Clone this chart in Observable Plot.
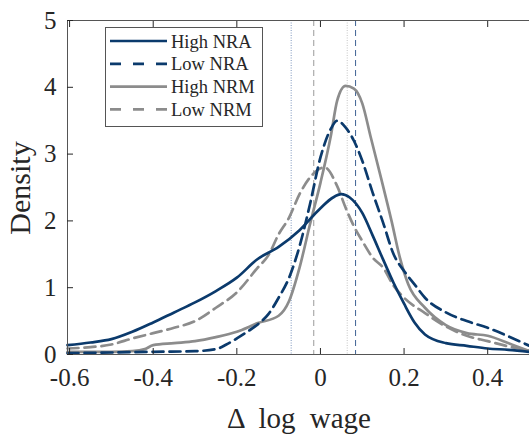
<!DOCTYPE html>
<html><head><meta charset="utf-8">
<script src="https://cdn.jsdelivr.net/npm/d3@7"></script>
<script src="https://cdn.jsdelivr.net/npm/@observablehq/plot@0.6"></script>
<style>
body{margin:0;background:#fff;}
#wrap{position:relative;width:529px;height:434px;}
</style></head><body><div id="wrap"></div>
<script>
// Series names
const seriesNames = ["High NRA", "Low NRA", "High NRM", "Low NRM"];

// High NRA (solid navy)
const highNRA_x = [-0.605,-0.55,-0.5,-0.45,-0.4,-0.35,-0.3,-0.25,-0.2,-0.15,-0.1,-0.05,0,0.03,0.05,0.07,0.1,0.125,0.15,0.175,0.2,0.225,0.25,0.3,0.35,0.4,0.45,0.5];
const highNRA_y = [0.14,0.18,0.23,0.34,0.48,0.63,0.78,0.95,1.15,1.43,1.61,1.86,2.19,2.35,2.40,2.35,2.12,1.78,1.42,1.07,0.76,0.48,0.30,0.17,0.13,0.09,0.07,0.04];

// Low NRA (dashed navy)
const lowNRA_x = [-0.605,-0.5,-0.4,-0.3,-0.25,-0.225,-0.2,-0.175,-0.15,-0.125,-0.1,-0.075,-0.05,-0.025,0,0.025,0.04,0.06,0.08,0.1,0.125,0.15,0.175,0.2,0.225,0.25,0.3,0.35,0.4,0.45,0.5];
const lowNRA_y = [0.02,0.03,0.04,0.05,0.08,0.15,0.24,0.34,0.45,0.60,0.85,1.15,1.62,2.25,2.95,3.38,3.50,3.40,3.20,2.90,2.42,1.97,1.50,1.25,1.05,0.85,0.63,0.50,0.40,0.27,0.13];

// High NRM (solid gray)
const highNRM_x = [-0.605,-0.5,-0.45,-0.42,-0.4,-0.35,-0.3,-0.25,-0.2,-0.15,-0.1,-0.075,-0.05,-0.025,0,0.025,0.04,0.06,0.08,0.1,0.12,0.145,0.17,0.19,0.21,0.25,0.3,0.35,0.4,0.45,0.5];
const highNRM_y = [0.04,0.04,0.05,0.08,0.14,0.17,0.20,0.26,0.34,0.47,0.58,0.80,1.30,1.95,2.57,3.28,3.80,4.02,3.98,3.76,3.26,2.64,2.00,1.45,1.05,0.70,0.44,0.32,0.28,0.17,0.05];

// Low NRM (dashed gray)
const lowNRM_x = [-0.605,-0.55,-0.5,-0.45,-0.4,-0.35,-0.3,-0.25,-0.2,-0.15,-0.125,-0.1,-0.075,-0.05,-0.025,0.01,0.04,0.06,0.08,0.1,0.125,0.15,0.175,0.2,0.25,0.3,0.35,0.4,0.45,0.5];
const lowNRM_y = [0.09,0.11,0.15,0.24,0.32,0.40,0.50,0.70,0.93,1.30,1.48,1.80,2.05,2.40,2.65,2.80,2.52,2.20,1.92,1.70,1.45,1.30,1.03,0.85,0.62,0.42,0.28,0.20,0.12,0.06];

// Mean lines
const meanHighNRA = [-0.070];
const meanLowNRM = [-0.016];
const meanHighNRM = [0.064];
const meanLowNRA = [0.084];

// Ticks
const xTicks = [-0.6, -0.4, -0.2, 0, 0.2, 0.4];
const yTicks = [0, 1, 2, 3, 4, 5];

const navy = "#0b3a6c";
const gray = "#8c8c8c";
const ink = "#262626";
const FONT = "'Liberation Serif', 'DejaVu Serif', serif";

const toRows = (name, xs, ys) => xs.map((x, i) => ({series: name, x, y: ys[i]}));
const rowsHighNRA = toRows(seriesNames[0], highNRA_x, highNRA_y);
const rowsLowNRA = toRows(seriesNames[1], lowNRA_x, lowNRA_y);
const rowsHighNRM = toRows(seriesNames[2], highNRM_x, highNRM_y);
const rowsLowNRM = toRows(seriesNames[3], lowNRM_x, lowNRM_y);

const fmt = d => String(d).replace("\u2212", "-");
const curve = "monotone-x";

const plot = Plot.plot({
  width: 529, height: 434,
  marginLeft: 67, marginRight: 0, marginTop: 20, marginBottom: 80,
  x: {domain: [-0.605, 0.5]},
  y: {domain: [0, 5]},
  style: {fontFamily: FONT, fontSize: "25px", color: ink, background: "white"},
  marks: [
    Plot.ruleX(meanHighNRA, {x: d => d, stroke: "#7f97bd", strokeWidth: 1, strokeDasharray: "1,1.5"}),
    Plot.ruleX(meanLowNRM, {x: d => d, stroke: "#9a9a9a", strokeWidth: 1, strokeDasharray: "6,4"}),
    Plot.ruleX(meanHighNRM, {x: d => d, stroke: "#c4c4c4", strokeWidth: 1, strokeDasharray: "1,1.5"}),
    Plot.ruleX(meanLowNRA, {x: d => d, stroke: "#3f6394", strokeWidth: 1, strokeDasharray: "6,4"}),
    Plot.line(rowsLowNRM, {x: "x", y: "y", stroke: gray, strokeWidth: 2.7, strokeDasharray: "11,6", curve}),
    Plot.line(rowsHighNRM, {x: "x", y: "y", stroke: gray, strokeWidth: 2.7, curve}),
    Plot.line(rowsLowNRA, {x: "x", y: "y", stroke: navy, strokeWidth: 2.7, strokeDasharray: "11,6", curve}),
    Plot.line(rowsHighNRA, {x: "x", y: "y", stroke: navy, strokeWidth: 2.7, curve}),
    Plot.frame({stroke: "#555", strokeWidth: 1}),
    Plot.axisX({ticks: xTicks, tickSize: -6, tickPadding: 20, tickFormat: fmt, label: null, stroke: ink, fill: ink, fontFamily: FONT, fontSize: 25}),
    Plot.axisX({anchor: "top", ticks: xTicks, tickSize: -6, tickFormat: () => "", label: null, stroke: ink}),
    Plot.axisY({ticks: yTicks, tickSize: -6, tickPadding: 17, tickFormat: fmt, label: null, stroke: ink, fill: ink, fontFamily: FONT, fontSize: 25})
  ]
});

const wrap = document.getElementById("wrap");
wrap.appendChild(plot);

const svg = d3.select(plot);
svg.selectAll("text").attr("font-family", FONT);

// Axis labels
svg.append("text")
  .attr("transform", "translate(30,188) rotate(-90)")
  .attr("text-anchor", "middle")
  .attr("font-family", FONT).attr("font-size", 30).attr("fill", ink)
  .text("Density");
svg.append("text")
  .attr("x", 299).attr("y", 428)
  .attr("text-anchor", "middle")
  .attr("font-family", FONT).attr("font-size", 29).attr("fill", ink)
  .attr("word-spacing", 7)
  .text("\u0394 log wage");

// Legend
const legendItems = [
  {name: seriesNames[0], color: navy, dash: null},
  {name: seriesNames[1], color: navy, dash: "11,12"},
  {name: seriesNames[2], color: gray, dash: null},
  {name: seriesNames[3], color: gray, dash: "11,12"}
];
const lg = svg.append("g");
lg.append("rect").attr("x", 105.5).attr("y", 27.5).attr("width", 157).attr("height", 99)
  .attr("fill", "white").attr("stroke", "#555").attr("stroke-width", 1);
legendItems.forEach((it, i) => {
  const cy = 41 + i * 22.8;
  lg.append("line").attr("x1", 110).attr("x2", 167).attr("y1", cy).attr("y2", cy)
    .attr("stroke", it.color).attr("stroke-width", 2.7)
    .attr("stroke-dasharray", it.dash);
  lg.append("text").attr("x", 171).attr("y", cy + 6.5)
    .attr("text-anchor", "start")
    .attr("font-family", FONT).attr("font-size", 18.5).attr("fill", ink)
    .text(it.name);
});
</script>
</body></html>
